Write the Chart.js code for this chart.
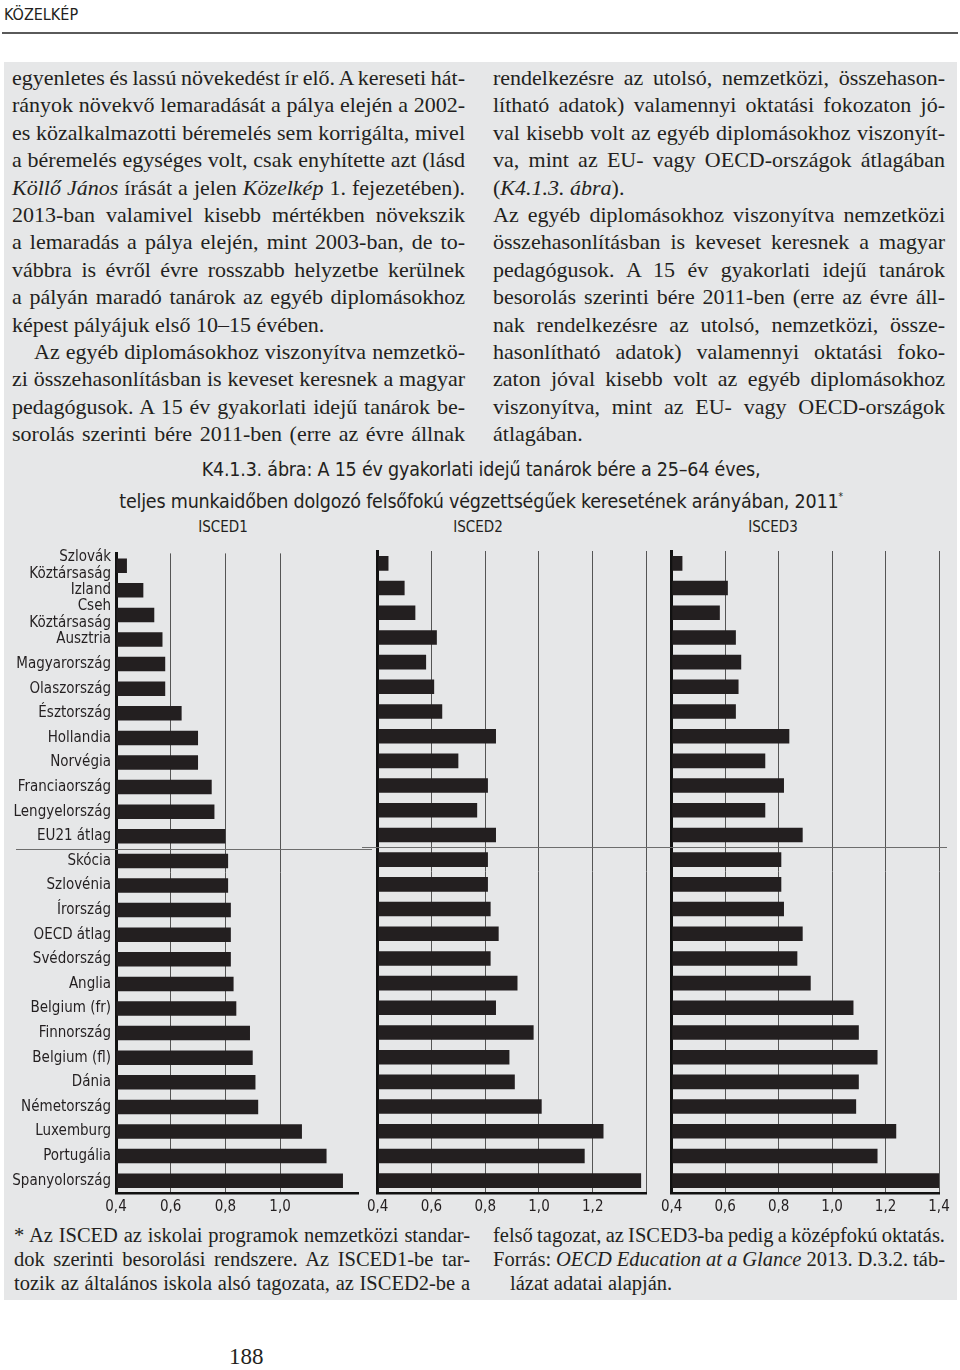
<!DOCTYPE html>
<html lang="hu">
<head>
<meta charset="utf-8">
<script src="https://cdn.jsdelivr.net/npm/chart.js@4.4.1/dist/chart.umd.min.js"></script>
<style>
body{margin:0;width:960px;height:1370px;background:#fff;position:relative;overflow:hidden;font-family:"Liberation Serif",serif;color:#231f20;}
.narrow{font-family:"DejaVu Sans",sans-serif;font-stretch:condensed;}
.hdr{position:absolute;left:4px;top:5px;font-size:16px;}
.rule{position:absolute;left:2px;top:32px;width:956px;height:2px;background:#5a5a5a;}
.box{position:absolute;left:4px;top:62px;width:953px;height:1238px;background:#e6e7e8;}
.col{position:absolute;font-size:22px;line-height:27.4px;}
.col div{height:27.4px;white-space:nowrap;}
.foot{position:absolute;font-size:20.5px;line-height:24px;}
.foot div{height:24px;white-space:nowrap;}
.title{position:absolute;left:0;width:962px;text-align:center;font-size:19.5px;line-height:27px;letter-spacing:-0.2px;}
.isced{position:absolute;font-size:15px;transform:translateX(-50%);}
canvas{position:absolute;}
.page{position:absolute;left:229px;top:1344px;font-size:23px;}
</style>
</head>
<body>
<div class="hdr narrow">KÖZELKÉP</div>
<div class="rule"></div>
<div class="box"></div>

<div class="col fit" style="left:12px;top:64px;width:453px;">
<div>egyenletes és lassú növekedést ír elő. A kereseti hát-</div>
<div>rányok növekvő lemaradását a pálya elején a 2002-</div>
<div>es közalkalmazotti béremelés sem korrigálta, mivel</div>
<div>a béremelés egységes volt, csak enyhítette azt (lásd</div>
<div><i>Köllő János</i> írását a jelen <i>Közelkép</i> 1. fejezetében).</div>
<div>2013-ban valamivel kisebb mértékben növekszik</div>
<div>a lemaradás a pálya elején, mint 2003-ban, de to-</div>
<div>vábbra is évről évre rosszabb helyzetbe kerülnek</div>
<div>a pályán maradó tanárok az egyéb diplomásokhoz</div>
<div class="l">képest pályájuk első 10–15 évében.</div>
<div style="padding-left:22px;">Az egyéb diplomásokhoz viszonyítva nemzetkö-</div>
<div>zi összehasonlításban is keveset keresnek a magyar</div>
<div>pedagógusok. A 15 év gyakorlati idejű tanárok be-</div>
<div>sorolás szerinti bére 2011-ben (erre az évre állnak</div>
</div>

<div class="col fit" style="left:493px;top:64px;width:452px;">
<div>rendelkezésre az utolsó, nemzetközi, összehason-</div>
<div>lítható adatok) valamennyi oktatási fokozaton jó-</div>
<div>val kisebb volt az egyéb diplomásokhoz viszonyít-</div>
<div>va, mint az EU- vagy OECD-országok átlagában</div>
<div class="l">(<i>K4.1.3. ábra</i>).</div>
<div>Az egyéb diplomásokhoz viszonyítva nemzetközi</div>
<div>összehasonlításban is keveset keresnek a magyar</div>
<div>pedagógusok. A 15 év gyakorlati idejű tanárok</div>
<div>besorolás szerinti bére 2011-ben (erre az évre áll-</div>
<div>nak rendelkezésre az utolsó, nemzetközi, össze-</div>
<div>hasonlítható adatok) valamennyi oktatási foko-</div>
<div>zaton jóval kisebb volt az egyéb diplomásokhoz</div>
<div>viszonyítva, mint az EU- vagy OECD-országok</div>
<div class="l">átlagában.</div>
</div>

<div class="title narrow" style="top:456px;">K4.1.3. ábra: A 15 év gyakorlati idejű tanárok bére a 25–64 éves,<br>teljes munkaidőben dolgozó felsőfokú végzettségűek keresetének arányában, 2011<sup style="font-size:10px;">*</sup></div>
<div class="isced narrow" style="left:223px;top:518px;">ISCED1</div>
<div class="isced narrow" style="left:478px;top:518px;">ISCED2</div>
<div class="isced narrow" style="left:773px;top:518px;">ISCED3</div>

<canvas id="c1" width="372" height="680" style="left:0;top:540px;"></canvas>
<canvas id="c2" width="294" height="680" style="left:362px;top:540px;"></canvas>
<canvas id="c3" width="304" height="680" style="left:656px;top:540px;"></canvas>

<div class="foot fit" style="left:14px;top:1223px;width:456px;">
<div>* Az ISCED az iskolai programok nemzetközi standar-</div>
<div>dok szerinti besorolási rendszere. Az ISCED1-be tar-</div>
<div>tozik az általános iskola alsó tagozata, az ISCED2-be a</div>
</div>
<div class="foot fit" style="left:493px;top:1223px;width:452px;">
<div>felső tagozat, az ISCED3-ba pedig a középfokú oktatás.</div>
<div>Forrás: <i>OECD Education at a Glance</i> 2013. D.3.2. táb-</div>
<div class="l" style="padding-left:17px;">lázat adatai alapján.</div>
</div>

<div class="page">188</div>

<script>
const orszagok = [["Szlovák", "Köztársaság"], "Izland", ["Cseh", "Köztársaság"], "Ausztria",
  "Magyarország", "Olaszország", "Észtország", "Hollandia", "Norvégia", "Franciaország",
  "Lengyelország", "EU21 átlag", "Skócia", "Szlovénia", "Írország", "OECD átlag",
  "Svédország", "Anglia", "Belgium (fr)", "Finnország", "Belgium (fl)", "Dánia",
  "Németország", "Luxemburg", "Portugália", "Spanyolország"];

const isced1 = [0.44, 0.50, 0.54, 0.57, 0.58, 0.58, 0.64, 0.70, 0.70, 0.75, 0.76, 0.80, 0.81,
  0.81, 0.82, 0.82, 0.82, 0.83, 0.84, 0.89, 0.90, 0.91, 0.92, 1.08, 1.17, 1.23];
const isced2 = [0.44, 0.50, 0.54, 0.62, 0.58, 0.61, 0.64, 0.84, 0.70, 0.81, 0.77, 0.84, 0.81,
  0.81, 0.82, 0.85, 0.82, 0.92, 0.84, 0.98, 0.89, 0.91, 1.01, 1.24, 1.17, 1.38];
const isced3 = [0.44, 0.61, 0.58, 0.64, 0.66, 0.65, 0.64, 0.84, 0.75, 0.82, 0.75, 0.89, 0.81,
  0.81, 0.82, 0.89, 0.87, 0.92, 1.08, 1.10, 1.17, 1.10, 1.09, 1.24, 1.17, 1.40];

const tengelyMin = 0.4;
const tengelyMax = [1.285, 1.4, 1.4];
const lepes = 0.2;
const elvalaszto = 11; // EU21 átlag után

// a sorkizárt sorokat szóközökkel töltjük ki a hasáb szélességére
document.querySelectorAll(".fit").forEach(col => {
  const cel = col.clientWidth;
  col.querySelectorAll("div").forEach(d => {
    if (d.classList.contains("l")) return;
    d.style.display = "inline-block";
    const w = d.getBoundingClientRect().width;
    d.style.display = "block";
    const n = (d.textContent.match(/ /g) || []).length;
    if (n) d.style.wordSpacing = ((cel - w) / n) + "px";
  });
});

const betu = '"DejaVu Sans", sans-serif';
const fekete = "#231f20";

// vízszintes vonal az EU21 átlag és Skócia között
const valasztoVonal = {
  id: "valasztoVonal",
  beforeDatasetsDraw(chart, args, opts) {
    const y = chart.scales.y;
    const yPos = (y.getPixelForValue(elvalaszto) + y.getPixelForValue(elvalaszto + 1)) / 2;
    const ctx = chart.ctx;
    ctx.save();
    ctx.strokeStyle = "#6d6d6d";
    ctx.lineWidth = 1;
    ctx.beginPath();
    ctx.moveTo(opts.x0, Math.round(yPos) + 0.5);
    ctx.lineTo(opts.x1, Math.round(yPos) + 0.5);
    ctx.stroke();
    ctx.restore();
  }
};

function rajzol(id, adat, max, yWidth, jobb, cimkek, utolsoCimke, x0, x1) {
  return new Chart(document.getElementById(id), {
    type: "bar",
    data: {
      labels: orszagok,
      datasets: [{ data: adat, backgroundColor: fekete, barPercentage: 0.59, categoryPercentage: 1, base: tengelyMin }]
    },
    options: {
      indexAxis: "y",
      responsive: false,
      animation: false,
      layout: { padding: { top: 11, right: jobb, left: 0, bottom: 0 } },
      plugins: {
        legend: { display: false },
        tooltip: { enabled: false },
        valasztoVonal: { x0, x1 }
      },
      scales: {
        x: {
          min: tengelyMin,
          max: max,
          afterBuildTicks(s) {
            s.ticks = s.ticks.filter(t => Math.abs(t.value / lepes - Math.round(t.value / lepes)) < 1e-6);
          },
          afterFit(s) { s.height = 27; },
          grid: { color: "#555", lineWidth: 1, drawTicks: false },
          border: { display: true, color: "#111", width: 2.5 },
          ticks: {
            stepSize: lepes,
            padding: 5,
            color: fekete,
            font: { family: betu, size: 15, weight: "condensed" },
            callback: v => (!utolsoCimke && Math.abs(v - 1.4) < 1e-6) ? "" : v.toFixed(1).replace(".", ",")
          }
        },
        y: {
          afterFit(s) { s.width = yWidth; },
          grid: { display: false, drawTicks: false },
          border: { display: true, color: "#111", width: 3 },
          ticks: {
            display: cimkek,
            padding: 5,
            color: fekete,
            autoSkip: false,
            font: { family: betu, size: 15, weight: "condensed", lineHeight: 1.12 }
          }
        }
      }
    },
    plugins: [valasztoVonal]
  });
}

rajzol("c1", isced1, tengelyMax[0], 116, 14, true, false, 16, 372);
rajzol("c2", isced2, tengelyMax[1], 9.5, 9.5, false, false, 0, 294);
rajzol("c3", isced3, tengelyMax[2], 8, 21, false, true, 0, 291);
</script>
</body>
</html>
